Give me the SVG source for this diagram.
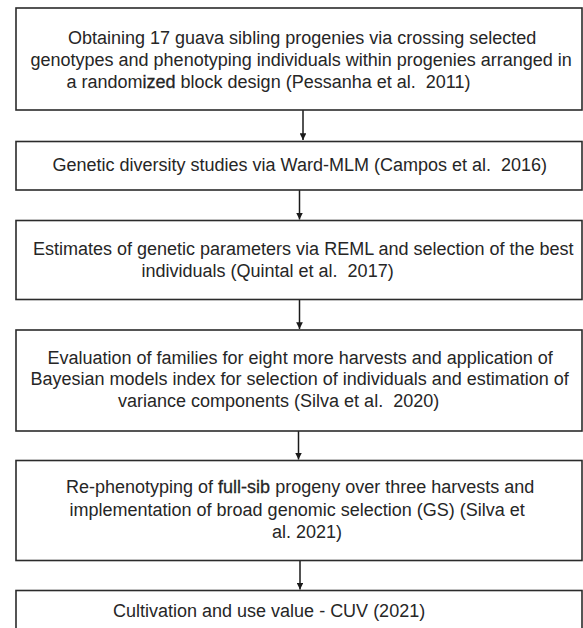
<svg xmlns="http://www.w3.org/2000/svg" width="583" height="628" viewBox="0 0 583 628">
<style>
.box{fill:#fff;stroke:#2b2b2b;stroke-width:1.6}
.t{font-family:"Liberation Sans",Arial,sans-serif;font-size:18px;fill:#262626;white-space:pre}
.b{stroke:#262626;stroke-width:0.3}
.c{stroke:#1a1a1a;stroke-width:1.5;fill:none}
</style>
<defs>
<marker id="ah" viewBox="0 0 10 10" refX="10" refY="5" markerWidth="4.5" markerHeight="4.5" orient="auto" markerUnits="strokeWidth">
<path d="M0,0 L10,5 L0,10 z" fill="#1a1a1a"/>
</marker>
</defs>
<rect width="583" height="628" fill="#fff"/>
<g id="connectors">
<line class="c" x1="303" y1="110" x2="303" y2="140" marker-end="url(#ah)"/>
<line class="c" x1="299.5" y1="190" x2="299.5" y2="219.5" marker-end="url(#ah)"/>
<line class="c" x1="299.5" y1="299.5" x2="299.5" y2="329" marker-end="url(#ah)"/>
<line class="c" x1="298.5" y1="431" x2="298.5" y2="459.5" marker-end="url(#ah)"/>
<line class="c" x1="300" y1="560.5" x2="300" y2="589.5" marker-end="url(#ah)"/>
</g>
<g id="n1">
<rect class="box" x="16" y="8" width="566" height="102"/>
<text class="t" x="68" y="43.5">Obtaining 17 guava sibling progenies via crossing selected</text>
<text class="t" x="30.5" y="65.5">genotypes and phenotyping individuals within progenies arranged in</text>
<text class="t" x="66.5" y="87.5">a random<tspan class="b">ized</tspan> block design (Pessanha et al.  2011)</text>
</g>
<g id="n2">
<rect class="box" x="16" y="141.5" width="566" height="48.5"/>
<text class="t" x="52.5" y="171">Genetic diversity studies via Ward-MLM (Campos et al.  2016)</text>
</g>
<g id="n3">
<rect class="box" x="16" y="220.5" width="566" height="79"/>
<text class="t" x="33" y="254.5">Estimates of genetic parameters via REML and selection of the best</text>
<text class="t" x="141.5" y="277">individuals (Quintal et al.  2017)</text>
</g>
<g id="n4">
<rect class="box" x="16" y="330" width="566" height="101"/>
<text class="t" x="47.5" y="363.5">Evaluation of families for eight more harvests and application of</text>
<text class="t" x="30.5" y="385">Bayesian models index for selection of individuals and estimation of</text>
<text class="t" x="118" y="406.5">variance components (Silva et al.  2020)</text>
</g>
<g id="n5">
<rect class="box" x="16" y="460.5" width="566" height="100"/>
<text class="t" x="66" y="493">Re-phenotyping of <tspan class="b">full-sib</tspan> progeny over three harvests and</text>
<text class="t" x="69.5" y="515.5">implementation of broad genomic selection (GS) (Silva et</text>
<text class="t" x="272" y="538">al. 2021)</text>
</g>
<g id="n6">
<rect class="box" x="16" y="590.5" width="566" height="60"/>
<text class="t" x="113" y="617">Cultivation and use value - CUV (2021)</text>
</g>
</svg>
